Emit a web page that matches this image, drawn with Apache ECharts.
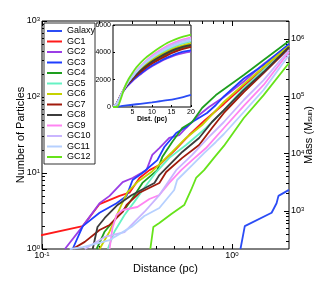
<!DOCTYPE html>
<html><head><meta charset="utf-8">
<script src="https://cdn.jsdelivr.net/npm/echarts@6/dist/echarts.min.js"></script>
<style>html,body{margin:0;padding:0;background:#fff}#c{width:322px;height:281px}</style>
</head><body><div id="c"></div>
<script>
const F = 'Liberation Sans, Arial, sans-serif';
const seriesNames = ['Galaxy','GC1','GC2','GC3','GC4','GC5','GC6','GC7','GC8','GC9','GC10','GC11','GC12'];
const seriesColors = ['#2b4cf5','#ff1a1a','#9b3ee6','#1f3dff','#1e9e1e','#66f2c4','#c6d200','#a11a0c','#3c3c3c','#ff84f2','#c9b5ff','#b6d0ff','#66e31a'];

// Main panel: distance (pc) vs number of particles
const galaxyDist = [1.11,1.17,1.62,1.72,1.76,2.0];
const galaxyN    = [1,2,3,4,5,6];
const gc1Dist = [0.046,0.164,0.201,0.256,0.289,0.326,0.368,0.415,0.497,0.596,0.714,0.908,1.156,1.47,2.0];
const gc1N    = [1,2,3.9,5,5.5,8.6,10.9,12.7,19.5,31.6,48.3,81,140,233,455];
const gc2Dist = [0.132,0.164,0.201,0.227,0.266,0.300,0.355,0.381,0.415,0.468,0.528,0.574,0.672,0.758,0.908,1.156,1.47,2.0];
const gc2N    = [1,2,4,5,7.6,8.6,10.9,17.3,21.3,28.9,31.6,39.1,58,74,100,160,272,483];
const gc3Dist = [0.145,0.164,0.201,0.247,0.279,0.300,0.338,0.405,0.441,0.509,0.574,0.618,0.740,0.824,0.908,1.156,1.47,2.0];
const gc3N    = [1,2,3,4,5,8.1,10,14.8,22,33.6,40.3,46.9,61.6,78.5,102,175,264,498];
const gc4Dist = [0.194,0.214,0.247,0.279,0.307,0.338,0.405,0.430,0.485,0.548,0.618,0.697,0.824,1.156,1.47,2.0];
const gc4N    = [1,1.7,2.6,3.6,5.1,7.4,10.9,16.2,25.6,39.1,46.9,71.7,106,195,307,546];
const gc5Dist = [0.222,0.241,0.272,0.307,0.346,0.400,0.468,0.574,0.731,0.908,1.156,1.47,2.0];
const gc5N    = [1,1.7,2.8,4.2,6.4,10.3,15.8,23.4,39.1,67.4,131,227,441];
const gc6Dist = [0.201,0.227,0.262,0.282,0.318,0.377,0.485,0.574,0.697,0.908,1.156,1.47,2.0];
const gc6N    = [1,1.7,3.8,5.6,7.6,10.3,18.9,28.9,42.8,86,148,248,469];
const gc7Dist = [0.145,0.168,0.201,0.227,0.266,0.279,0.326,0.415,0.451,0.548,0.672,0.786,0.908,1.156,1.47,2.0];
const gc7N    = [1,1.24,1.78,2.07,3.07,3.8,5.5,7.4,10.3,15.8,23.4,39.1,61.6,116,207,441];
const gc8Dist = [0.185,0.196,0.214,0.250,0.296,0.391,0.415,0.451,0.548,0.672,0.786,0.908,1.156,1.47,2.0];
const gc8N    = [1,1.95,2.56,3.8,5.1,7.4,9.4,11.6,18.9,28.9,46.9,67.4,124,213,455];
const gc9Dist = [0.227,0.235,0.247,0.266,0.318,0.368,0.415,0.468,0.541,0.618,0.731,0.908,1.156,1.47,2.0];
const gc9N    = [1,1.89,2.8,3.26,3.57,4.55,5.13,7.4,10.9,14.8,21.3,39.1,76.2,144,391];
const gc10Dist = [0.168,0.214,0.272,0.307,0.346,0.415,0.509,0.618,0.758,0.908,1.156,1.47,2.0];
const gc10N    = [1,1.44,1.67,2.27,3.07,5.13,10.9,17.3,29.8,46.9,91.3,167,415];
const gc11Dist = [0.140,0.164,0.227,0.300,0.346,0.415,0.497,0.515,0.618,0.714,0.824,0.908,1.156,1.47,2.0];
const gc11N    = [1,1.06,1.31,2.0,2.72,3.46,5.98,8.09,12.7,18.3,25.6,32.6,63.5,124,357];
const gc12Dist = [0.372,0.386,0.415,0.480,0.561,0.610,0.648,0.714,0.805,0.908,1.156,1.47,2.0];
const gc12N    = [1,1.95,2.2,2.89,3.79,5.98,8.6,10.9,15.8,22.7,52.9,106,280];

// Inset: cumulative mass vs distance (pc)
const insetDist = [0,1,2,3,4,5,6,8,10,12,14,16,18,20];
const insetGalaxy = [0,30,60,95,130,165,200,270,340,420,500,600,730,880];
const insetGC1  = [0,300,900,1380,1750,2050,2330,2820,3220,3550,3850,4100,4300,4450];
const insetGC2  = [0,300,850,1300,1620,1900,2150,2600,2980,3300,3570,3800,3950,4050];
const insetGC3  = [0,300,850,1300,1650,1950,2200,2650,3030,3350,3630,3870,4050,4150];
const insetGC4  = [0,250,850,1380,1780,2100,2400,2900,3300,3650,3950,4200,4380,4500];
const insetGC5  = [0,250,850,1400,1820,2180,2500,3050,3500,3880,4200,4450,4650,4800];
const insetGC6  = [0,250,850,1380,1800,2150,2450,2980,3420,3780,4080,4330,4510,4650];
const insetGC7  = [0,250,850,1350,1730,2030,2300,2780,3180,3500,3800,4050,4250,4400];
const insetGC8  = [0,250,850,1380,1780,2100,2400,2900,3330,3680,3980,4230,4420,4550];
const insetGC9  = [0,250,850,1450,1900,2300,2650,3250,3750,4150,4500,4750,4950,5100];
const insetGC10 = [0,250,850,1420,1870,2250,2600,3200,3650,4050,4400,4650,4850,5000];
const insetGC11 = [0,250,850,1400,1850,2200,2550,3150,3600,3980,4300,4550,4750,4900];
const insetGC12 = [0,0,600,1450,2050,2500,2900,3500,3950,4350,4700,4950,5150,5300];

// Tick values
const xMajorTicks = [0.1,1];
const xMinorTicks = [0.2,0.3,0.4,0.5,0.6,0.7,0.8,0.9];
const yMajorTicks = [1,10,100,1000];
const yMinorTicks = [2,3,4,5,6,7,8,9,20,30,40,50,60,70,80,90,200,300,400,500,600,700,800,900];
const massMajorTicks = [1e3,1e4,1e5,1e6];
const massMinorTicks = [300,400,500,600,700,800,900,2e3,3e3,4e3,5e3,6e3,7e3,8e3,9e3,2e4,3e4,4e4,5e4,6e4,7e4,8e4,9e4,2e5,3e5,4e5,5e5,6e5,7e5,8e5,9e5,2e6];

const mainDist = [galaxyDist,gc1Dist,gc2Dist,gc3Dist,gc4Dist,gc5Dist,gc6Dist,gc7Dist,gc8Dist,gc9Dist,gc10Dist,gc11Dist,gc12Dist];
const mainN = [galaxyN,gc1N,gc2N,gc3N,gc4N,gc5N,gc6N,gc7N,gc8N,gc9N,gc10N,gc11N,gc12N];
const insetVals = [insetGalaxy,insetGC1,insetGC2,insetGC3,insetGC4,insetGC5,insetGC6,insetGC7,insetGC8,insetGC9,insetGC10,insetGC11,insetGC12];

const rich = {
  b:{fontSize:9,fontFamily:F,color:'#000'},
  s:{fontSize:6,fontFamily:F,color:'#000',verticalAlign:'top'}
};
function logLabel(v){ const e = Math.round(Math.log10(v)); return '{b|10}{s|'+e+'}'; }
function plainLabel(v){ return String(v); }

function tickAxis(base, ticks, len, withLabels, extra){
  return Object.assign({
    splitLine:{show:false},
    axisLine:{show:false},
    axisTick:{show:true, inside:true, length:len, customValues:ticks, lineStyle:{color:'#000',width:1}},
    axisLabel: withLabels ? {show:true, customValues:ticks, formatter:logLabel, rich:rich, margin:2} : {show:false}
  }, base, extra||{});
}

const xMain = {type:'log', logBase:10, min:0.1, max:2, gridIndex:0};
const yMain = {type:'log', logBase:10, min:1, max:1000, gridIndex:0};
const yMass = {type:'log', logBase:10, min:217, max:2.06e6, gridIndex:0, position:'right'};

const xAxes = [
  tickAxis(Object.assign({position:'bottom'},xMain), xMajorTicks, 5, true, {
    name:'Distance (pc)', nameLocation:'middle', nameGap:14, nameMoveOverlap:false,
    nameTextStyle:{fontSize:11,fontFamily:F,color:'#000'}
  }),
  tickAxis(Object.assign({position:'bottom'},xMain), xMinorTicks, 3, false),
  tickAxis(Object.assign({position:'top'},xMain), xMajorTicks, 5, false),
  tickAxis(Object.assign({position:'top'},xMain), xMinorTicks, 3, false),
  {type:'value', gridIndex:1, min:0, max:20, interval:5,
   splitLine:{show:false}, axisLine:{show:false},
   axisTick:{inside:true,length:2,lineStyle:{color:'#000'}},
   axisLabel:{fontSize:7,fontFamily:F,color:'#000',margin:2,showMinLabel:false,formatter:plainLabel},
   name:'Dist. (pc)', nameLocation:'middle', nameGap:9, nameMoveOverlap:false,
   nameTextStyle:{fontSize:7,fontWeight:'bold',fontFamily:F,color:'#000'}}
];
const yAxes = [
  tickAxis(Object.assign({position:'left'},yMain), yMajorTicks, 5, true, {
    name:'Number of Particles', nameLocation:'middle', nameGap:16, nameRotate:90, nameMoveOverlap:false,
    nameTextStyle:{fontSize:11,fontFamily:F,color:'#000'}
  }),
  tickAxis(Object.assign({position:'left'},yMain), yMinorTicks, 3, false),
  tickAxis(yMass, massMajorTicks, 5, true, {
    name:'{n|Mass (M}{sub|sun}{n|)}', nameLocation:'middle', nameGap:14, nameRotate:90, nameMoveOverlap:false,
    nameTextStyle:{rich:{n:{fontSize:11,fontFamily:F,color:'#000'},sub:{fontSize:7.5,fontFamily:F,color:'#000',verticalAlign:'bottom'}}}
  }),
  tickAxis(Object.assign({},yMass), massMinorTicks, 3, false),
  {type:'value', gridIndex:1, min:0, max:6000, interval:2000,
   splitLine:{show:false}, axisLine:{show:false},
   axisTick:{inside:true,length:2,lineStyle:{color:'#000'}},
   axisLabel:{fontSize:7,fontFamily:F,color:'#000',margin:2,formatter:plainLabel}}
];

const series = [];
seriesNames.forEach((nm,i)=>{
  series.push({
    name:nm, type:'line', xAxisIndex:0, yAxisIndex:0, showSymbol:false, symbol:'none',
    data: mainDist[i].map((d,j)=>[d, mainN[i][j]]),
    lineStyle:{color:seriesColors[i], width:1.8}, itemStyle:{color:seriesColors[i]},
    clip:true, z:2+i*0.01
  });
});
seriesNames.forEach((nm,i)=>{
  series.push({
    name:nm, type:'line', xAxisIndex:4, yAxisIndex:4, showSymbol:false, symbol:'none', smooth:0.3,
    data: insetDist.map((d,j)=>[d, insetVals[i][j]]),
    lineStyle:{color:seriesColors[i], width:1.8}, itemStyle:{color:seriesColors[i]},
    clip:true
  });
});

const chart = echarts.init(document.getElementById('c'), null, {renderer:'canvas'});
chart.setOption({
  animation:false,
  backgroundColor:'#fff',
  grid:[
    {left:42, top:21, width:250, height:228, show:true, borderColor:'#000', borderWidth:1, backgroundColor:'transparent'},
    {left:113, top:25, width:78, height:82, show:true, borderColor:'#000', borderWidth:1, backgroundColor:'#fff'}
  ],
  legend:{
    data:seriesNames, orient:'vertical', left:44, top:23,
    itemWidth:15, itemHeight:2, itemGap:0.5, icon:'rect',
    textStyle:{fontSize:9, fontFamily:F, color:'#000', lineHeight:10},
    borderColor:'#000', borderWidth:0.8, backgroundColor:'#fff', padding:[3,0,2,3],
    selectedMode:false
  },
  xAxis:xAxes,
  yAxis:yAxes,
  series:series
});
</script></body></html>
